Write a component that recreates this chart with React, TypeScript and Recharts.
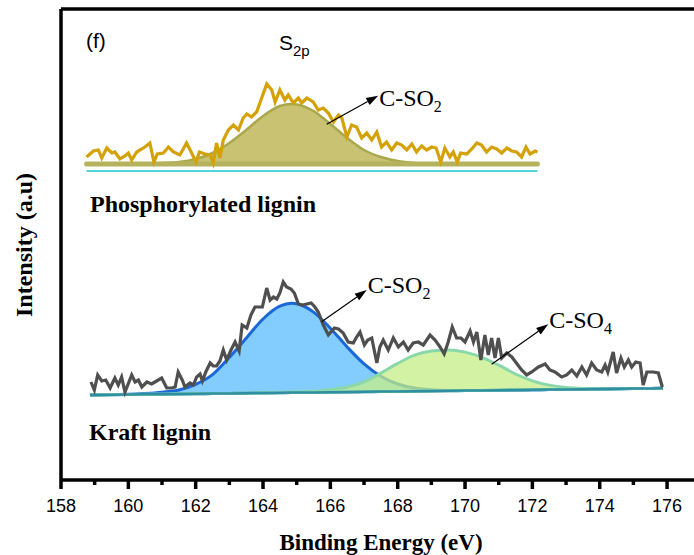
import { ComposedChart, Line, Area, XAxis, YAxis, ReferenceLine } from 'recharts';

// binding energy axis (eV) and intensity range (a.u.)
const X_MIN = 158;
const X_MAX = 176.8;
const Y_MAX = 471;
const TICKS = [158, 159, 160, 161, 162, 163, 164, 165, 166, 167, 168, 169, 170, 171, 172, 173, 174, 175, 176];

// phosphorylated lignin, raw S2p scan
const PHOS_ENERGY = [
  158.76, 158.96, 159.11, 159.21, 159.36, 159.51, 159.6, 159.75, 159.9, 160.0,
  160.1, 160.25, 160.4, 160.49, 160.64, 160.76, 160.86, 161.04, 161.19, 161.34,
  161.53, 161.73, 161.88, 162.01, 162.11, 162.28, 162.43, 162.52, 162.62, 162.72,
  162.82, 162.97, 163.12, 163.27, 163.41, 163.52, 163.66, 163.81, 163.96, 164.11,
  164.26, 164.36, 164.5, 164.65, 164.75, 164.9, 165.05, 165.15, 165.3, 165.49,
  165.64, 165.79, 165.94, 166.09, 166.24, 166.34, 166.49, 166.63, 166.78, 166.93,
  167.08, 167.23, 167.38, 167.52, 167.67, 167.82, 167.97, 168.12, 168.27, 168.42,
  168.56, 168.71, 168.86, 169.01, 169.14, 169.28, 169.4, 169.55, 169.65, 169.77,
  169.87, 170.05, 170.2, 170.35, 170.49, 170.64, 170.79, 170.94, 171.09, 171.24,
  171.39, 171.53, 171.68, 171.81, 171.93, 172.08, 172.15,
];
const PHOS_COUNTS = [
  323, 329, 330, 322, 332, 327, 328, 321, 324, 327,
  320, 328, 331, 333, 337, 318, 326, 327, 333, 328,
  325, 337, 327, 318, 328, 326, 325, 317, 337, 322,
  340, 350, 355, 350, 362, 366, 363, 368, 382, 396,
  390, 378, 390, 380, 385, 377, 382, 377, 382, 378,
  370, 372, 367, 358, 365, 362, 343, 355, 353, 342,
  347, 340, 348, 333, 338, 330, 337, 335, 330, 336,
  328, 334, 330, 333, 332, 318, 332, 323, 328, 318,
  327, 326, 331, 337, 335, 328, 333, 331, 327, 332,
  329, 328, 323, 333, 326, 329, 328,
];

// phosphorylated lignin, C-SO2 fitted component
const PHOS_FIT_ENERGY = [158.76, 159.5, 160.5, 161, 161.5, 162, 162.5, 163, 163.5, 164, 164.5, 164.85, 165, 165.5, 166, 166.5, 167, 167.5, 168, 168.5, 169, 170, 171, 172.15];
const PHOS_FIT_COUNTS = [316, 316, 316, 317, 318, 321, 327, 337, 350, 364, 374, 376, 375.6, 369, 356, 342, 330, 323, 319, 317, 316, 316, 316, 316];
const PHOS_BACKGROUND = 316;
const PHOS_ENVELOPE_BASE = 309;

// kraft lignin, raw S2p scan
const KRAFT_ENERGY = [
  158.89, 158.99, 159.09, 159.21, 159.33, 159.46, 159.6, 159.7, 159.8, 159.9,
  160.1, 160.2, 160.3, 160.4, 160.55, 160.69, 160.84, 160.99, 161.14, 161.29,
  161.39, 161.48, 161.6, 161.68, 161.83, 161.93, 162.03, 162.13, 162.2, 162.3,
  162.43, 162.52, 162.62, 162.72, 162.82, 162.92, 163.05, 163.17, 163.29, 163.38,
  163.52, 163.64, 163.76, 163.86, 163.98, 164.11, 164.21, 164.31, 164.41, 164.5,
  164.6, 164.7, 164.83, 164.93, 165.05, 165.17, 165.3, 165.43, 165.54, 165.64,
  165.79, 165.94, 166.12, 166.24, 166.38, 166.53, 166.68, 166.78, 166.88, 167.01,
  167.11, 167.23, 167.38, 167.47, 167.57, 167.72, 167.87, 168.02, 168.17, 168.31,
  168.46, 168.61, 168.76, 168.96, 169.11, 169.26, 169.38, 169.5, 169.62, 169.75,
  169.88, 170.0, 170.15, 170.25, 170.35, 170.47, 170.59, 170.69, 170.79, 170.89,
  170.99, 171.09, 171.24, 171.39, 171.48, 171.68, 171.83, 171.98, 172.18, 172.38,
  172.52, 172.67, 172.87, 173.02, 173.17, 173.32, 173.47, 173.61, 173.76, 173.91,
  174.06, 174.16, 174.24, 174.4, 174.5, 174.63, 174.73, 174.85, 174.95, 175.07,
  175.2, 175.29, 175.4, 175.59, 175.74, 175.86,
];
const KRAFT_COUNTS = [
  98, 90, 105, 99, 100, 92, 102, 95, 103, 88,
  105, 98, 100, 93, 98, 96, 99, 102, 92, 92,
  93, 108, 100, 93, 97, 95, 103, 106, 99, 108,
  117, 114, 114, 119, 130, 120, 130, 138, 129, 155,
  152, 165, 173, 173, 173, 192, 180, 183, 181, 187,
  198, 193, 191, 187, 176, 175, 176, 177, 173, 168,
  155, 145, 152, 151, 147, 138, 137, 143, 148, 135,
  140, 142, 117, 133, 140, 130, 142, 133, 138, 130,
  137, 138, 135, 145, 140, 133, 126, 138, 153, 142,
  142, 138, 149, 138, 148, 120, 145, 125, 142, 122,
  142, 122, 127, 123, 119, 110, 105, 108, 113, 116,
  110, 108, 103, 105, 110, 104, 113, 105, 117, 110,
  108, 115, 108, 128, 107, 122, 113, 120, 113, 118,
  117, 95, 108, 108, 107, 93,
];

// kraft lignin, fitted background and the two components above it
const KRAFT_FIT_ENERGY = [158.86, 159, 159.5, 160, 160.5, 161, 161.5, 162, 162.5, 163, 163.5, 164, 164.5, 164.85, 165, 165.5, 166, 166.5, 167, 167.5, 168, 168.5, 169, 169.5, 170, 170.5, 171, 171.5, 172, 172.5, 173, 173.5, 174, 174.5, 175, 175.5, 175.88];
const KRAFT_BACKGROUND = [85.0, 85.1, 85.3, 85.5, 85.7, 85.8, 86.0, 86.2, 86.4, 86.6, 86.8, 87.0, 87.2, 87.4, 87.4, 87.6, 87.8, 88.0, 88.2, 88.4, 88.6, 88.8, 89.0, 89.2, 89.4, 89.6, 89.8, 90.0, 90.2, 90.4, 90.6, 90.8, 91.0, 91.2, 91.4, 91.6, 91.7];
const KRAFT_SO2 = [0, 0, 0.1, 0.2, 0.8, 2, 4, 9.5, 19, 36, 55, 74, 86.6, 89.3, 88.8, 80.3, 64, 45, 27.9, 15.3, 7.4, 3.1, 1.2, 0.4, 0.1, 0, 0, 0, 0, 0, 0, 0, 0, 0, 0, 0, 0];
const KRAFT_SO4 = [0, 0, 0, 0, 0, 0, 0, 0, 0, 0, 0, 0.1, 0.3, 0.5, 0.6, 1.2, 2.5, 5, 10, 18.5, 28, 36, 40, 40.8, 38.5, 33, 25, 16, 9, 4.5, 2, 0.8, 0.3, 0.1, 0, 0, 0];

const SERIF = '"Liberation Serif", "Times New Roman", serif';
const SANS = '"Liberation Sans", Arial, sans-serif';

const zip = (es: number[], vs: number[]) => es.map((e, i) => ({ e, v: vs[i] }));

const phosRaw = zip(PHOS_ENERGY, PHOS_COUNTS);
const phosFit = zip(PHOS_FIT_ENERGY, PHOS_FIT_COUNTS);
const phosEnds = [PHOS_FIT_ENERGY[0], PHOS_FIT_ENERGY[PHOS_FIT_ENERGY.length - 1]];
const phosBg = phosEnds.map((e) => ({ e, v: PHOS_BACKGROUND }));
const phosBase = phosEnds.map((e) => ({ e, v: PHOS_ENVELOPE_BASE }));
const kraftRaw = zip(KRAFT_ENERGY, KRAFT_COUNTS);
const kraftFit = KRAFT_FIT_ENERGY.map((e, i) => {
  const bg = KRAFT_BACKGROUND[i];
  return { e, bg, so2: [bg, bg + KRAFT_SO2[i]], so4: [bg, bg + KRAFT_SO4[i]] };
});

// major ticks every 2 eV with labels, short minor ticks in between
const EnergyTick = (props: any) => {
  const { x, y, payload } = props;
  const major = payload.value % 2 === 0;
  return (
    <g>
      <line x1={x} x2={x} y1={y} y2={y + (major ? 9 : 5)} stroke="#000" strokeWidth={3.5} />
      {major && (
        <text x={x} y={y + 32} textAnchor="middle" fontFamily={SANS} fontSize={18} fill="#000">
          {payload.value}
        </text>
      )}
    </g>
  );
};

// arrow pointing at a peak label, label sits right of the arrow head
const arrow = (main: string, sub: string, dy: number) => (props: any) => {
  const { x1, y1, x2, y2 } = props;
  const ang = Math.atan2(y2 - y1, x2 - x1);
  const len = 12;
  const half = 4;
  const bx = x2 - len * Math.cos(ang);
  const by = y2 - len * Math.sin(ang);
  const px = -Math.sin(ang) * half;
  const py = Math.cos(ang) * half;
  return (
    <g>
      <line x1={x1} y1={y1} x2={bx} y2={by} stroke="#000" strokeWidth={1.2} />
      <polygon points={`${x2},${y2} ${bx + px},${by + py} ${bx - px},${by - py}`} fill="#000" />
      <text x={x2 + 1} y={y2 + dy} fontFamily={SERIF} fontSize={24} fill="#000">
        {main}
        <tspan fontSize={16} dy={6}>{sub}</tspan>
      </text>
    </g>
  );
};

export default function App() {
  return (
    <div style={{ position: 'absolute', left: 0, top: 0, width: 694, height: 555, background: '#fff' }}>
      <ComposedChart width={694} height={555} margin={{ top: 9, right: 0, bottom: 0, left: 61 }}>
        <XAxis
          type="number"
          dataKey="e"
          domain={[X_MIN, X_MAX]}
          ticks={TICKS}
          interval={0}
          allowDataOverflow
          height={75}
          tickSize={0}
          tickMargin={0}
          tickLine={false}
          tick={<EnergyTick />}
          axisLine={{ stroke: '#000', strokeWidth: 3.5 }}
        />
        <YAxis type="number" domain={[0, Y_MAX]} allowDataOverflow width={0} tick={false} tickLine={false} axisLine={false} />
        {/* frame: left and top edges */}
        <ReferenceLine x={X_MIN} stroke="#000" strokeWidth={3.5} />
        <ReferenceLine y={Y_MAX} stroke="#000" strokeWidth={3.5} />

        {/* phosphorylated lignin */}
        <Line data={phosBase} dataKey="v" stroke="#4fd6dc" strokeWidth={2} dot={false} activeDot={false} isAnimationActive={false} />
        <Area data={phosFit} dataKey="v" type="monotone" baseValue={PHOS_BACKGROUND} stroke="#a9a84c" strokeWidth={2.5} fill="#c8c272" fillOpacity={1} dot={false} activeDot={false} isAnimationActive={false} />
        <Line data={phosBg} dataKey="v" stroke="#b5b25e" strokeWidth={5} strokeLinecap="round" dot={false} activeDot={false} isAnimationActive={false} />
        <Line data={phosRaw} dataKey="v" stroke="#d4a106" strokeWidth={3.2} dot={false} activeDot={false} isAnimationActive={false} />

        {/* kraft lignin */}
        <Area data={kraftFit} dataKey="so2" type="monotone" stroke="#1a68d8" strokeWidth={3} fill="#82cdfe" fillOpacity={1} dot={false} activeDot={false} isAnimationActive={false} />
        <Area data={kraftFit} dataKey="so4" type="monotone" stroke="#8ad8aa" strokeWidth={3} fill="#c6ee84" fillOpacity={0.75} dot={false} activeDot={false} isAnimationActive={false} />
        <Line data={kraftFit} dataKey="bg" stroke="#2f8fa2" strokeWidth={2.5} dot={false} activeDot={false} isAnimationActive={false} />
        <Line data={kraftRaw} dataKey="v" stroke="#4f4f4f" strokeWidth={3.2} dot={false} activeDot={false} isAnimationActive={false} />

        <ReferenceLine segment={[{ x: 165.89, y: 355.7 }, { x: 167.42, y: 384.3 }]} shape={arrow('C-SO', '2', 10)} />
        <ReferenceLine segment={[{ x: 165.74, y: 158.3 }, { x: 167.08, y: 190 }]} shape={arrow('C-SO', '2', 3)} />
        <ReferenceLine segment={[{ x: 170.79, y: 115.7 }, { x: 172.47, y: 155.7 }]} shape={arrow('C-SO', '4', 4)} />
      </ComposedChart>

      <svg width={694} height={555} style={{ position: 'absolute', left: 0, top: 0, pointerEvents: 'none' }}>
        <text x={86} y={48} fontFamily={SANS} fontSize={21} fill="#000">(f)</text>
        <text x={279} y={50} fontFamily={SANS} fontSize={21} fill="#000">
          S<tspan fontSize={15} dy={6}>2p</tspan>
        </text>
        <text x={90} y={212} fontFamily={SERIF} fontSize={24} fontWeight="bold" fill="#000">Phosphorylated lignin</text>
        <text x={89} y={440} fontFamily={SERIF} fontSize={24} fontWeight="bold" fill="#000">Kraft lignin</text>
        <text x={381} y={550} textAnchor="middle" fontFamily={SERIF} fontSize={23} fontWeight="bold" fill="#000">Binding Energy (eV)</text>
        <text transform="translate(32,245) rotate(-90)" textAnchor="middle" fontFamily={SERIF} fontSize={24} fontWeight="bold" fill="#000">Intensity (a.u)</text>
      </svg>
    </div>
  );
}
